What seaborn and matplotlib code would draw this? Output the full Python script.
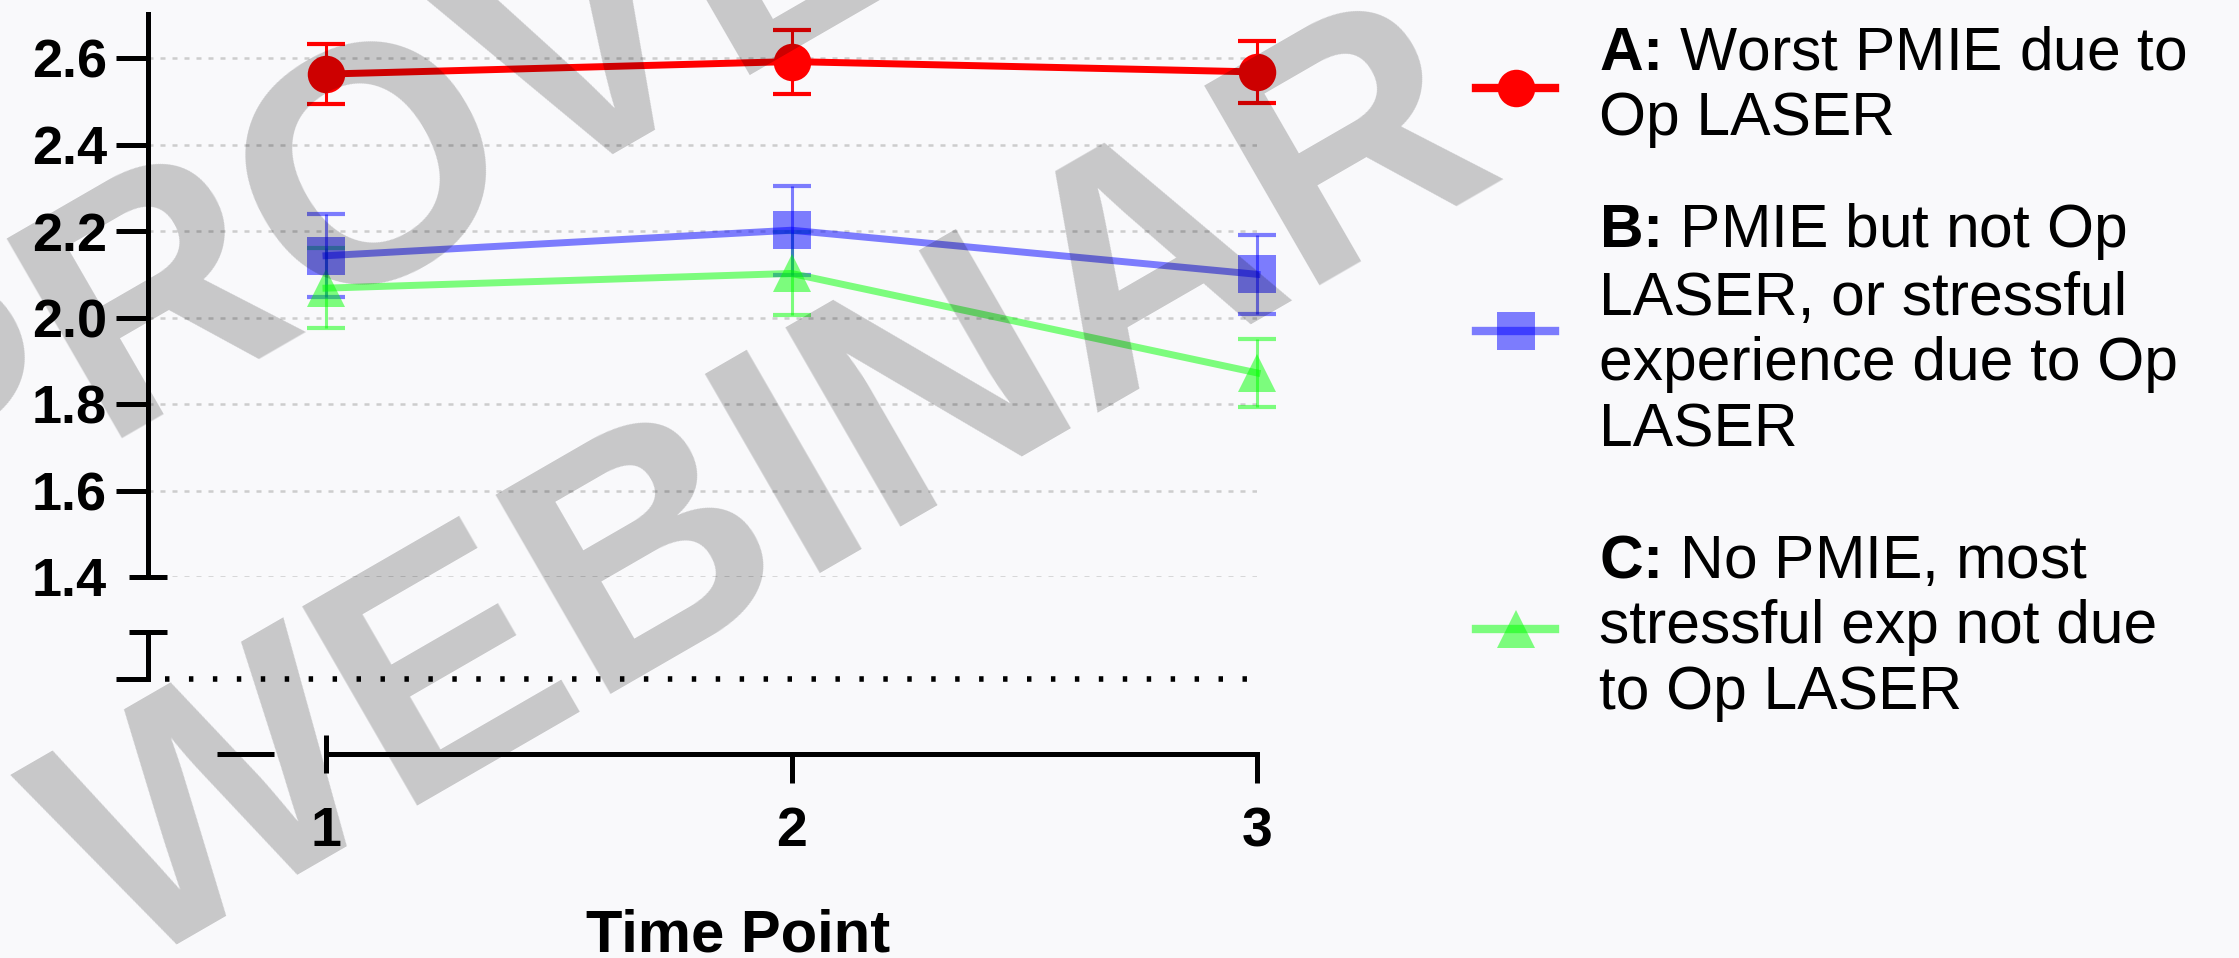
import numpy as np
import pandas as pd
import matplotlib
matplotlib.use("Agg")
import matplotlib.pyplot as plt
from matplotlib.lines import Line2D
import seaborn as sns

# ---------------- data ----------------
time_points = [1, 2, 3]
groups = ["A", "B", "C"]
mean_A = [2.563, 2.592, 2.568]
sem_A = [0.069, 0.074, 0.071]
mean_B = [2.143, 2.202, 2.100]
sem_B = [0.096, 0.103, 0.091]
mean_C = [2.068, 2.102, 1.872]
sem_C = [0.092, 0.096, 0.079]

legend_labels = [
    "$\\text{A:}$ Worst PMIE due to\nOp LASER",
    "$\\text{B:}$ PMIE but not Op\nLASER, or stressful\nexperience due to Op\nLASER",
    "$\\text{C:}$ No PMIE, most\nstressful exp not due\nto Op LASER",
]
y_ticks = [1.6, 1.8, 2.0, 2.2, 2.4, 2.6]
y_tick_labels = ["1.6", "1.8", "2.0", "2.2", "2.4", "2.6"]
y_end_tick = [1.4]
y_end_label = ["1.4"]
x_ticks = [2, 3]
x_tick_labels = ["2", "3"]
x_first_tick = [1]
x_first_label = ["1"]
x_label = "Time Point"
watermark_lines = ["APPROVED", "WEBINAR"]

palette = {"A": (1.0, 0.0, 0.0, 1.0), "B": (0.0, 0.0, 1.0, 0.5), "C": (0.0, 1.0, 0.0, 0.5)}
markers = {"A": "o", "B": "s", "C": "^"}

plt.rcParams["font.family"] = ["Liberation Sans", "DejaVu Sans"]
plt.rcParams["mathtext.fontset"] = "custom"
plt.rcParams["mathtext.rm"] = "Liberation Sans:bold"
plt.rcParams["mathtext.bf"] = "Liberation Sans:bold"

df = pd.DataFrame({
    "Time Point": time_points * 3,
    "group": ["A"] * 3 + ["B"] * 3 + ["C"] * 3,
    "mean": mean_A + mean_B + mean_C,
    "sem": sem_A + sem_B + sem_C,
})

# ---------------- layout ----------------
W, H = 2239, 958
BG = "#f9f9fb"
fig = plt.figure(figsize=(W / 100, H / 100), dpi=100)
fig.patch.set_facecolor(BG)


def fx(px):
    return px / W


def fy(py):
    return 1 - py / H


XLIM = (0.6176, 3.0)
LW = 3.6

# upper (main) axes
ax = fig.add_axes([fx(148), fy(577), fx(1257) - fx(148), fy(14.0) - fy(577)])
ax.patch.set_alpha(0)

for g in ["C", "B", "A"]:
    sub = df[df["group"] == g]
    cont = ax.errorbar(sub["Time Point"], sub["mean"], yerr=sub["sem"], fmt="none",
                       ecolor=palette[g], elinewidth=2.2, capsize=13.5, capthick=3.0,
                       zorder=2)
    for child in cont.get_children():
        child.set_clip_on(False)

sns.lineplot(data=df, x="Time Point", y="mean", hue="group", style="group",
             hue_order=["C", "B", "A"], style_order=["C", "B", "A"],
             markers=markers, dashes=False, palette=palette, linewidth=5,
             markersize=27, markeredgewidth=0, errorbar=None, legend=False,
             ax=ax, clip_on=False, zorder=3)
ax.set_xlabel("")
ax.set_ylabel("")
ax.set_xlim(*XLIM)
ax.set_ylim(1.4, 2.702)
for s in ["top", "right", "bottom"]:
    ax.spines[s].set_visible(False)
ax.spines["left"].set_linewidth(LW)
ax.set_xticks([])
ax.set_yticks(y_ticks, labels=y_tick_labels, fontsize=39, fontweight="bold")
ax.set_yticks(y_end_tick, labels=y_end_label, minor=True, fontsize=39, fontweight="bold")
ax.tick_params(axis="y", which="major", direction="out", length=23, width=LW, pad=6.5)
ax.tick_params(axis="y", which="minor", direction="inout", length=27, width=LW, pad=16)
ax.grid(axis="y", which="both", color="#cdcdcd", linewidth=1.8, linestyle=(0, (2, 2.8)))
ax.set_axisbelow(True)

# lower (break) segment of the y axis
ax_low = fig.add_axes([fx(148), fy(679), fx(1257) - fx(148), fy(632) - fy(679)])
ax_low.patch.set_alpha(0)
ax_low.set_xlim(*XLIM)
ax_low.set_ylim(0, 0.1087)
for s in ["top", "right", "bottom"]:
    ax_low.spines[s].set_visible(False)
ax_low.spines["left"].set_linewidth(LW)
ax_low.set_xticks([])
ax_low.set_yticks([0], labels=[""])
ax_low.set_yticks([0.1087], labels=[""], minor=True)
ax_low.tick_params(axis="y", which="major", direction="out", length=23, width=LW)
ax_low.tick_params(axis="y", which="minor", direction="inout", length=27, width=LW)
ax_low.axhline(0, xmin=0.015, xmax=0.991, color="black", lw=4,
               linestyle=(0, (0.8, 3.51)), clip_on=False)

# x axis
ax_x = fig.add_axes([fx(148), fy(754), fx(1257) - fx(148), 0.01])
ax_x.patch.set_alpha(0)
ax_x.set_xlim(*XLIM)
for s in ["top", "right", "left"]:
    ax_x.spines[s].set_visible(False)
ax_x.spines["bottom"].set_linewidth(LW)
ax_x.spines["bottom"].set_bounds(1, 3)
ax_x.set_yticks([])
ax_x.set_xticks(x_ticks, labels=x_tick_labels, fontsize=40, fontweight="bold")
ax_x.set_xticks(x_first_tick, labels=x_first_label, minor=True, fontsize=40, fontweight="bold")
ax_x.tick_params(axis="x", which="major", direction="out", length=21, width=LW, pad=16.5)
ax_x.tick_params(axis="x", which="minor", direction="inout", length=27, width=LW, pad=24)
x_break_seg = [0.766, 0.889]
ax_x.plot(x_break_seg, [0, 0], color="black", lw=LW, solid_capstyle="butt",
          transform=ax_x.get_xaxis_transform(), clip_on=False)

fig.text(fx(738), fy(952), x_label, ha="center", va="baseline",
         fontsize=43, fontweight="bold")

# legend (one block per group)
leg_y = [87, 330, 628]
for i, g in enumerate(groups):
    h = Line2D([], [], color=palette[g], marker=markers[g], markersize=27,
               lw=6, mew=0)
    fig.legend([h], [legend_labels[i]], loc="center left",
               bbox_to_anchor=(fx(1476), fy(leg_y[i])), frameon=False,
               fontsize=43.6, handlelength=1.31, handletextpad=0.72,
               borderpad=0, borderaxespad=0)

# watermark
wm_kw = dict(fontsize=241, fontweight="bold", color="black", alpha=0.2,
             rotation=30, rotation_mode="anchor", ha="center", va="center",
             zorder=20)
fig.text(fx(276), fy(244), watermark_lines[0], **wm_kw)
fig.text(fx(775), fy(500), watermark_lines[1], **wm_kw)

fig.savefig("out.png", dpi=100, facecolor=BG)
